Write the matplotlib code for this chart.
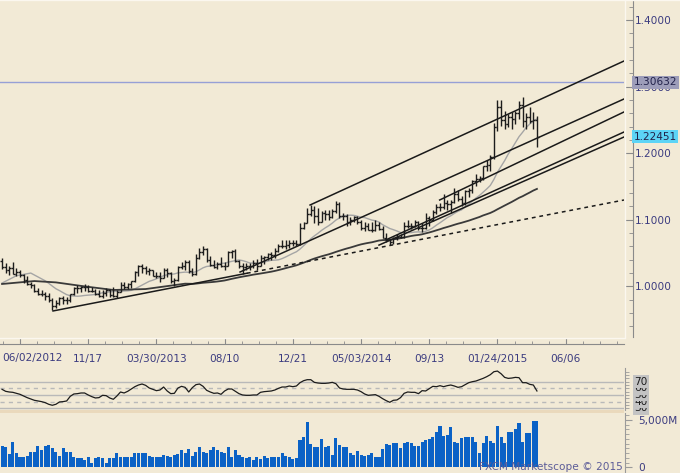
import numpy as np
import pandas as pd
import matplotlib
matplotlib.use("Agg")
import matplotlib.pyplot as plt
from matplotlib.lines import Line2D
from matplotlib.patches import Rectangle
import matplotlib.transforms as mtransforms

# weekly bars, each dated by the Saturday before its trading week
n_bars = 150
dates = pd.date_range("2012-06-02", periods=n_bars + 8, freq="7D")

opens = [1.0380, 1.0290, 1.0250, 1.0270, 1.0190, 1.0210, 1.0170, 1.0100, 1.0040, 1.0020,
         0.9930, 0.9890, 0.9880, 0.9860, 0.9800, 0.9700, 0.9750, 0.9830, 0.9800, 0.9790,
         0.9880, 0.9980, 0.9980, 0.9990, 0.9990, 0.9930, 0.9930, 0.9890, 0.9860, 0.9900,
         0.9940, 0.9870, 0.9860, 0.9920, 1.0020, 0.9990, 1.0030, 1.0080, 1.0220, 1.0300,
         1.0280, 1.0230, 1.0250, 1.0160, 1.0150, 1.0130, 1.0250, 1.0200, 1.0080, 1.0100,
         1.0290, 1.0300, 1.0370, 1.0230, 1.0180, 1.0420, 1.0520, 1.0560, 1.0390, 1.0320,
         1.0290, 1.0340, 1.0300, 1.0300, 1.0510, 1.0530, 1.0380, 1.0300, 1.0290, 1.0310,
         1.0310, 1.0350, 1.0300, 1.0430, 1.0440, 1.0480, 1.0470, 1.0530, 1.0600, 1.0610,
         1.0620, 1.0650, 1.0650, 1.0630, 1.0870, 1.0950, 1.1080, 1.1150, 1.1050, 1.0970,
         1.1100, 1.1080, 1.1040, 1.1130, 1.1240, 1.1050, 1.1050, 1.0960, 1.1000, 1.1040,
         1.0960, 1.0880, 1.0900, 1.0850, 1.0840, 1.0920, 1.0860, 1.0730, 1.0690, 1.0670,
         1.0730, 1.0740, 1.0740, 1.0910, 1.0910, 1.0900, 1.0970, 1.0870, 1.0870, 1.1030,
         1.0990, 1.1110, 1.1190, 1.1190, 1.1250, 1.1230, 1.1270, 1.1380, 1.1310, 1.1250,
         1.1430, 1.1440, 1.1580, 1.1610, 1.1620, 1.1810, 1.1830, 1.1940, 1.2400, 1.2690,
         1.2500, 1.2440, 1.2540, 1.2510, 1.2600, 1.2720, 1.2480, 1.2550, 1.2490, 1.2500]
highs = [1.0420, 1.0350, 1.0310, 1.0360, 1.0280, 1.0250, 1.0180, 1.0150, 1.0070, 1.0030,
         0.9970, 0.9950, 0.9920, 0.9900, 0.9820, 0.9790, 0.9840, 0.9860, 0.9840, 0.9890,
         0.9990, 1.0020, 1.0010, 1.0040, 1.0020, 0.9990, 0.9960, 0.9940, 0.9940, 0.9970,
         0.9960, 0.9990, 0.9950, 1.0070, 1.0070, 1.0050, 1.0080, 1.0230, 1.0320, 1.0340,
         1.0300, 1.0280, 1.0250, 1.0220, 1.0210, 1.0280, 1.0270, 1.0210, 1.0130, 1.0300,
         1.0370, 1.0390, 1.0400, 1.0280, 1.0480, 1.0570, 1.0600, 1.0580, 1.0450, 1.0400,
         1.0370, 1.0440, 1.0370, 1.0530, 1.0550, 1.0560, 1.0400, 1.0350, 1.0350, 1.0350,
         1.0400, 1.0410, 1.0470, 1.0450, 1.0500, 1.0520, 1.0580, 1.0630, 1.0700, 1.0700,
         1.0700, 1.0700, 1.0700, 1.0950, 1.0970, 1.1170, 1.1220, 1.1200, 1.1170, 1.1130,
         1.1140, 1.1150, 1.1160, 1.1280, 1.1260, 1.1100, 1.1080, 1.1040, 1.1060, 1.1050,
         1.0990, 1.0960, 1.0950, 1.0960, 1.0990, 1.0960, 1.0900, 1.0800, 1.0710, 1.0740,
         1.0790, 1.0790, 1.0960, 1.0990, 1.0950, 1.0990, 1.0980, 1.0950, 1.1100, 1.1060,
         1.1150, 1.1240, 1.1250, 1.1380, 1.1290, 1.1290, 1.1470, 1.1450, 1.1350, 1.1440,
         1.1470, 1.1600, 1.1680, 1.1650, 1.1810, 1.1900, 1.1980, 1.2450, 1.2800, 1.2800,
         1.2640, 1.2590, 1.2620, 1.2630, 1.2790, 1.2840, 1.2600, 1.2700, 1.2620, 1.2560]
lows = [1.0260, 1.0200, 1.0170, 1.0185, 1.0150, 1.0140, 1.0050, 1.0020, 0.9970, 0.9920,
        0.9870, 0.9850, 0.9800, 0.9770, 0.9640, 0.9670, 0.9720, 0.9740, 0.9740, 0.9770,
        0.9870, 0.9900, 0.9910, 0.9930, 0.9920, 0.9910, 0.9870, 0.9840, 0.9830, 0.9850,
        0.9840, 0.9840, 0.9820, 0.9910, 0.9960, 0.9960, 0.9980, 1.0070, 1.0150, 1.0200,
        1.0190, 1.0170, 1.0150, 1.0120, 1.0070, 1.0120, 1.0140, 1.0050, 1.0010, 1.0080,
        1.0260, 1.0250, 1.0200, 1.0160, 1.0170, 1.0410, 1.0470, 1.0360, 1.0300, 1.0270,
        1.0260, 1.0290, 1.0250, 1.0300, 1.0420, 1.0370, 1.0280, 1.0180, 1.0250, 1.0250,
        1.0270, 1.0240, 1.0300, 1.0330, 1.0400, 1.0400, 1.0430, 1.0520, 1.0580, 1.0560,
        1.0580, 1.0600, 1.0600, 1.0620, 1.0860, 1.0950, 1.1050, 1.0950, 1.0920, 1.0960,
        1.1000, 1.1000, 1.1030, 1.1100, 1.1030, 1.0990, 1.0900, 1.0920, 1.0970, 1.0940,
        1.0850, 1.0830, 1.0850, 1.0820, 1.0830, 1.0840, 1.0720, 1.0670, 1.0620, 1.0630,
        1.0700, 1.0720, 1.0730, 1.0880, 1.0860, 1.0890, 1.0840, 1.0810, 1.0860, 1.0900,
        1.0980, 1.1080, 1.1130, 1.1160, 1.1150, 1.1100, 1.1250, 1.1280, 1.1200, 1.1220,
        1.1340, 1.1400, 1.1500, 1.1560, 1.1590, 1.1730, 1.1730, 1.1920, 1.2330, 1.2410,
        1.2360, 1.2400, 1.2360, 1.2440, 1.2520, 1.2400, 1.2360, 1.2460, 1.2370, 1.2090]
closes = [1.0290, 1.0250, 1.0270, 1.0190, 1.0210, 1.0170, 1.0100, 1.0040, 1.0020, 0.9930,
          0.9890, 0.9880, 0.9860, 0.9800, 0.9700, 0.9750, 0.9830, 0.9800, 0.9790, 0.9880,
          0.9980, 0.9980, 0.9990, 0.9990, 0.9930, 0.9930, 0.9890, 0.9860, 0.9900, 0.9940,
          0.9870, 0.9860, 0.9920, 1.0020, 0.9990, 1.0030, 1.0080, 1.0220, 1.0300, 1.0280,
          1.0230, 1.0250, 1.0160, 1.0150, 1.0130, 1.0250, 1.0200, 1.0080, 1.0100, 1.0290,
          1.0300, 1.0370, 1.0230, 1.0180, 1.0420, 1.0520, 1.0560, 1.0390, 1.0320, 1.0290,
          1.0340, 1.0300, 1.0300, 1.0510, 1.0530, 1.0380, 1.0300, 1.0290, 1.0310, 1.0310,
          1.0350, 1.0300, 1.0430, 1.0440, 1.0480, 1.0470, 1.0530, 1.0600, 1.0610, 1.0620,
          1.0650, 1.0650, 1.0630, 1.0870, 1.0950, 1.1080, 1.1150, 1.1050, 1.0970, 1.1100,
          1.1080, 1.1040, 1.1130, 1.1240, 1.1050, 1.1050, 1.0960, 1.1000, 1.1040, 1.0960,
          1.0880, 1.0900, 1.0850, 1.0840, 1.0920, 1.0860, 1.0730, 1.0690, 1.0670, 1.0730,
          1.0740, 1.0740, 1.0910, 1.0910, 1.0900, 1.0970, 1.0870, 1.0870, 1.1030, 1.0990,
          1.1110, 1.1190, 1.1190, 1.1250, 1.1230, 1.1270, 1.1380, 1.1310, 1.1250, 1.1430,
          1.1440, 1.1580, 1.1610, 1.1620, 1.1810, 1.1830, 1.1940, 1.2400, 1.2690, 1.2500,
          1.2440, 1.2540, 1.2510, 1.2600, 1.2720, 1.2480, 1.2550, 1.2490, 1.2500, 1.22451]

volume_m = [2250, 2180, 1400, 2640, 1550, 1130, 1130, 1200, 1650, 1650,
            2250, 1830, 2250, 2360, 2000, 1650, 1200, 2000, 1650, 1650,
            1060, 950, 950, 770, 1060, 420, 950, 1060, 950, 420,
            950, 950, 1480, 1130, 1130, 1060, 1130, 1480, 1480, 1480,
            1480, 1200, 1060, 1060, 1130, 1300, 1200, 1060, 1300, 1400,
            1830, 1480, 1900, 1200, 1650, 2110, 1650, 1480, 1830, 2110,
            1830, 1650, 1480, 2110, 1130, 1830, 1300, 1130, 950, 1060,
            770, 1060, 845, 1200, 950, 1060, 1060, 1060, 1550, 1200,
            1060, 845, 950, 2890, 3170, 4750, 2460, 2180, 2180, 2990,
            2180, 2250, 1300, 3060, 2360, 2110, 2110, 1480, 1300, 1720,
            1300, 1200, 1300, 1480, 1060, 1060, 1940, 2460, 2360, 2530,
            2530, 2000, 2600, 2640, 2600, 2250, 2250, 2640, 2890, 2990,
            3240, 3770, 4360, 3310, 3410, 4220, 2710, 2530, 3060, 3170,
            3170, 3170, 2710, 1480, 2600, 3310, 2820, 2530, 4360, 3170,
            2600, 3770, 3770, 4010, 4720, 2710, 3590, 3590, 4930, 4930]

rsi = [58.5, 55.5, 54.5, 54, 52.5, 51, 48.5, 46, 44, 42,
       41, 40, 38.5, 36, 34.5, 36, 39.5, 40, 41, 48,
       51.5, 52, 53, 53, 50, 47.5, 45.5, 46, 49.5, 49,
       45.5, 43.5, 48.5, 54.5, 53, 55.5, 59, 62.5, 65, 66.5,
       64.5, 60.5, 58.5, 56.5, 57.5, 62, 56, 52, 52.5, 60.5,
       63, 61.5, 54.5, 61, 65.5, 66.5, 63, 57, 54.5, 52.5,
       53, 51, 56, 59, 59, 55.5, 52, 50, 49.5, 49.5,
       50, 50, 54, 55, 55.5, 56, 57.5, 60, 62, 62,
       63.5, 62.5, 63.5, 68.5, 71.5, 73, 73, 69, 68, 67.5,
       67.5, 68, 69, 67, 60.5, 59, 58.5, 58.5, 58.5, 57.5,
       55, 51.5, 49.5, 50, 50.5, 48, 44.5, 41.5, 39, 42,
       42.5, 46, 52.5, 54.5, 54, 54, 52, 56.5, 56, 59.5,
       63, 62.5, 64, 62.5, 64, 65, 63.5, 61.5, 62.5, 65.5,
       68.5, 70, 71, 73, 75, 77.5, 80.5, 85, 86, 82,
       76.5, 75, 75.5, 76.5, 76, 68.5, 68.5, 66, 65, 56]

# moving averages: 13 and 52 week. Before enough bars exist the
# values are read off the chart (bar index, value)
fast_len, slow_len = 13, 52
fast_early_idx = [0, 4, 8]
fast_early_val = [1.0050, 1.0160, 1.0200]
slow_early_idx = [0, 9, 15, 23, 31, 40]
slow_early_val = [1.0036, 1.0080, 1.0060, 1.0000, 0.9946, 0.9960]

# hand drawn trend lines: (bar, price) -> (bar, price)
trend_lines = [((85.8, 1.1222), (173.25, 1.3384)),
               ((66.3, 1.0216), (173.25, 1.2814)),
               ((121.9, 1.1297), (173.25, 1.2619)),
               ((107.0, 1.0700), (173.25, 1.2318)),
               ((105.0, 1.0620), (173.25, 1.2243)),
               ((14.2, 0.9631), (68.2, 1.0197))]
dashed_line = ((68.2, 1.0197), (173.25, 1.1297))

resistance = 1.30632
last_price = closes[-1]

# ---------------------------------------------------------------
W, H = 680, 473
BG = "#f2ead6"
TXT = "#3c3c80"
FS = 7.6

def rect(x0, y0, x1, y1):
    return [x0 / W, 1 - y1 / H, (x1 - x0) / W, (y1 - y0) / H]

fig = plt.figure(figsize=(W / 100, H / 100), dpi=100, facecolor=BG)
ax = fig.add_axes(rect(0, 0, 624, 337), facecolor=BG)
ax_rsi = fig.add_axes(rect(0, 368, 624, 410), facecolor=BG, sharex=ax)
ax_vol = fig.add_axes(rect(0, 413, 624, 473), facecolor=BG, sharex=ax)

x = np.arange(n_bars)
xlim = (-0.57, 173.25)

# price bars
ax.vlines(x, lows, highs, color="#1c1c1c", lw=1.0, zorder=4)
ax.hlines(opens, x - 0.5, x, color="#1c1c1c", lw=1.0, zorder=4)
ax.hlines(closes, x, x + 0.5, color="#1c1c1c", lw=1.0, zorder=4)

cs = pd.Series(closes)
ma_fast = cs.rolling(fast_len).mean()
ma_slow = cs.rolling(slow_len).mean()
k0 = fast_len - 1
ax.plot(fast_early_idx + list(x[k0:]), fast_early_val + list(ma_fast[k0:]),
        color="#a5a5a5", lw=1.0, zorder=3)
k1 = slow_len - 1
ax.plot(slow_early_idx + list(x[k1:]), slow_early_val + list(ma_slow[k1:]),
        color="#3a3a3a", lw=1.3, zorder=3)

for (x0, y0), (x1, y1) in trend_lines:
    ax.plot([x0, x1], [y0, y1], color="#1a1a1a", lw=1.1, zorder=3)
(x0, y0), (x1, y1) = dashed_line
ax.plot([x0, x1], [y0, y1], color="#1a1a1a", lw=1.1, ls=(0, (2.5, 2.5)), zorder=3)

ax.axhline(resistance, color="#97a0d6", lw=1.0, zorder=2)

ax.set_xlim(*xlim)
ax.set_ylim(0.924, 1.430)
for s in ("top", "left"):
    ax.spines[s].set_visible(False)
ax.spines["right"].set_position(("outward", 9 * 0.72))
ax.spines["bottom"].set_position(("outward", 7 * 0.72))
for s in ("right", "bottom"):
    ax.spines[s].set_color("#8a8a8a")
ax.yaxis.tick_right()
ax.set_yticks([1.0, 1.1, 1.2, 1.3, 1.4])
ax.set_yticklabels(["1.0000", "1.1000", "1.2000", "1.3000", "1.4000"])
ax.set_yticks(np.arange(0.94, 1.43, 0.02), minor=True)

# date labels: year shown on the first label of each year
major_idx = list(range(5, 158, 19))
labels = []
seen_years = {dates[0].year}
for k in major_idx:
    d = dates[k]
    if k == 5:
        labels.append("")
    elif d.year not in seen_years:
        seen_years.add(d.year)
        labels.append(d.strftime("%m/%d/%Y"))
    else:
        labels.append(d.strftime("%m/%d"))
ax.set_xticks(major_idx)
ax.set_xticklabels(labels)
ax.set_xticks(np.arange(0.25, 173, 4.75), minor=True)
ax.text(0.0032, 0.0, dates[0].strftime("%m/%d/%Y"),
        transform=mtransforms.offset_copy(ax.transAxes, fig=fig, x=0, y=-21, units="dots"),
        ha="left", va="center", fontsize=FS, color=TXT)

ax.tick_params(axis="both", which="both", direction="in", colors="#8a8a8a",
               labelcolor=TXT, labelsize=FS)
ax.tick_params(axis="y", which="major", length=5.5, pad=1)
ax.tick_params(axis="y", which="minor", length=3)
ax.tick_params(axis="x", which="major", length=4.5, pad=7.5)
ax.tick_params(axis="x", which="minor", length=2.2)

# price boxes on the scale
tr_price = mtransforms.blended_transform_factory(fig.transFigure, ax.transData)
ax.text(633.5 / W, resistance, "%.5f" % resistance, transform=tr_price,
        ha="left", va="center", fontsize=FS, color="#22224a", zorder=10,
        bbox=dict(boxstyle="square,pad=0.15", fc="#9d9db9", ec="none"), clip_on=False)
ax.text(633.5 / W, last_price, "%.5f" % last_price, transform=tr_price,
        ha="left", va="center", fontsize=FS, color="#22224a", zorder=10,
        bbox=dict(boxstyle="square,pad=0.15", fc="#5cd4f6", ec="none"), clip_on=False)

# light inner border
fig.add_artist(Line2D([624.5 / W] * 2, [1 - 337 / H, 1], color="#fbf7ef", lw=1))
fig.add_artist(Line2D([0, 624.5 / W], [1 - 337.5 / H] * 2, color="#fbf7ef", lw=1))
fig.add_artist(Line2D([0, 1], [1 - 0.5 / H] * 2, color="#fbf7ef", lw=1))

# RSI panel
rsi_levels = [70, 60, 50, 40, 30]
for lv in rsi_levels:
    ls = "-" if lv in (70, 50, 30) else (0, (3, 3))
    ax_rsi.axhline(lv, color="#b9b9b9", lw=1.0, ls=ls, zorder=1)
ax_rsi.plot(x, rsi, color="#1c1c1c", lw=0.9, zorder=3)
ax_rsi.set_ylim(27.4, 90.6)
for s in ("top", "left", "bottom"):
    ax_rsi.spines[s].set_visible(False)
ax_rsi.spines["right"].set_color("#9a9a9a")
ax_rsi.spines["right"].set_position(("outward", 1))
ax_rsi.yaxis.tick_right()
ax_rsi.set_yticks([])
ax_rsi.set_yticks(np.arange(30, 90, 5), minor=True)
ax_rsi.tick_params(axis="y", which="minor", direction="out", length=3, colors="#9a9a9a")
ax_rsi.tick_params(axis="x", which="both", bottom=False, labelbottom=False)

tr_rsi = mtransforms.blended_transform_factory(fig.transFigure, ax_rsi.transData)
for k, lv in enumerate([30, 40, 50, 60, 70]):
    ax_rsi.text(634 / W, lv, str(lv), transform=tr_rsi, ha="left", va="center",
                fontsize=FS, color="#1e1e1e", zorder=10 + k, clip_on=False,
                bbox=dict(boxstyle="square,pad=0.12", fc="#c3c3c3", ec="none"))

fig.patches.append(Rectangle((0, 1 - 413 / H), 624 / W, 3 / H, transform=fig.transFigure,
                             fc="#ead9bc", ec="none", zorder=0))

# volume panel
ax_vol.bar(x, volume_m, width=0.85, color="#0b62c6", zorder=2)
ax_vol.set_ylim(-602, 5740)
for s in ("top", "left", "bottom"):
    ax_vol.spines[s].set_visible(False)
ax_vol.spines["right"].set_color("#9a9a9a")
ax_vol.spines["right"].set_position(("outward", 1))
ax_vol.yaxis.tick_right()
ax_vol.set_yticks([0, 5000])
ax_vol.set_yticklabels(["0", "5,000M"])
ax_vol.set_yticks(np.arange(0, 5600, 500), minor=True)
ax_vol.tick_params(axis="y", which="major", direction="out", length=5, pad=4,
                   colors="#9a9a9a", labelcolor=TXT, labelsize=FS)
ax_vol.tick_params(axis="y", which="minor", direction="out", length=3, colors="#9a9a9a")
ax_vol.tick_params(axis="x", which="both", bottom=False, labelbottom=False)
ax_vol.set_xlim(*xlim)

fig.text(623 / W, 1 - 466.5 / H, "FXCM Marketscope \u00a9 2015", ha="right", va="center",
         fontsize=FS, color="#5c5c98", zorder=5)

fig.savefig("out.png", dpi=100, facecolor=BG)
